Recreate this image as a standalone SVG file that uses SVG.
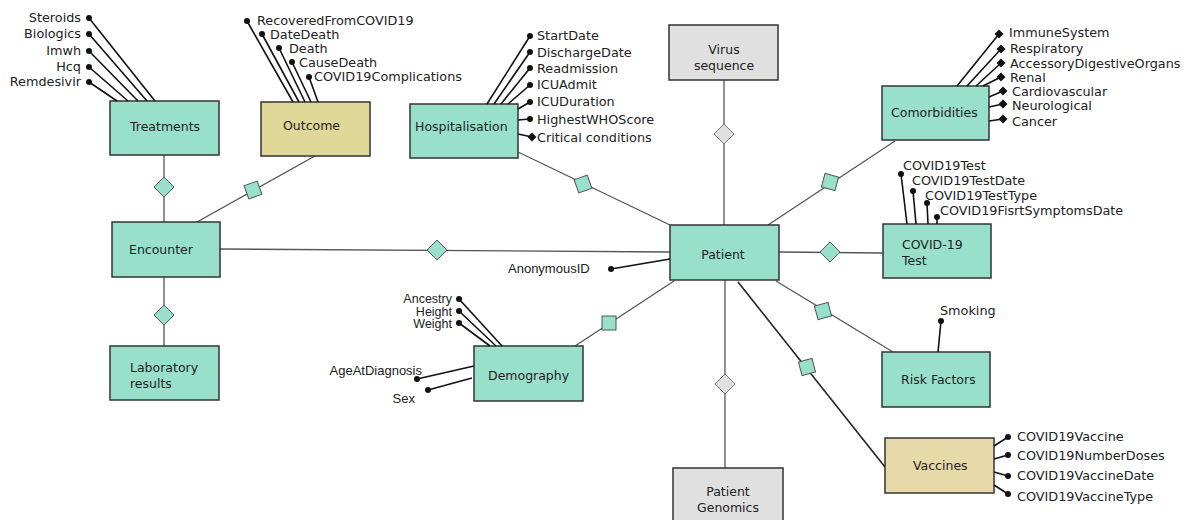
<svg xmlns="http://www.w3.org/2000/svg" width="1185" height="520" viewBox="0 0 1185 520">
<style>
.t{fill:#99e0cb;stroke:#333;stroke-width:1.5}
.y{fill:#e0d899;stroke:#333;stroke-width:1.5}
.v{fill:#e8d9a8;stroke:#333;stroke-width:1.5}
.g{fill:#e0e0e0;stroke:#333;stroke-width:1.5}
.lbl{font-family:"DejaVu Sans",Verdana,sans-serif;font-size:12.5px;fill:#222}
.att{font-family:"DejaVu Sans",Verdana,sans-serif;font-size:12.8px;fill:#222}
.ar{font-family:"Liberation Sans",Arial,sans-serif;font-size:13px;fill:#222}
.ars{font-family:"Liberation Sans",Arial,sans-serif;font-size:12.5px;fill:#222}
.c{stroke:#555;stroke-width:1.3;fill:none}
.cd{stroke:#222;stroke-width:1.6;fill:none}
.a{stroke:#111;stroke-width:1.6;fill:none}
.dm{fill:#99e0cb;stroke:#555;stroke-width:1}
.dg{fill:#e0e0e0;stroke:#777;stroke-width:1}
.sq{fill:#99e0cb;stroke:#555;stroke-width:1}
.dot{fill:#111}
</style>
<defs>
<polygon id="bd" points="0,-4.5 4.5,0 0,4.5 -4.5,0" fill="#111"/>
</defs>

<g id="connectors">
<line class="c" x1="164" y1="155" x2="164" y2="222"/>
<line class="c" x1="164" y1="277" x2="164" y2="346"/>
<line class="c" x1="197" y1="222" x2="315" y2="156"/>
<line class="c" x1="220" y1="249" x2="670" y2="252"/>
<line class="c" x1="518" y1="152" x2="670" y2="225"/>
<line class="c" x1="724" y1="80" x2="724" y2="225"/>
<line class="c" x1="895" y1="141" x2="768" y2="225"/>
<line class="c" x1="779" y1="252" x2="883" y2="253"/>
<line class="c" x1="776" y1="281" x2="893" y2="352"/>
<line class="cd" x1="738" y1="282" x2="885" y2="467"/>
<line class="c" x1="725" y1="280" x2="725" y2="468"/>
<line class="c" x1="575" y1="346" x2="674" y2="281"/>
<polygon class="dm" points="164,177 174,187 164,197 154,187"/>
<polygon class="dm" points="164,305 174,315 164,325 154,315"/>
<polygon class="dm" points="437,240 447,250 437,260 427,250"/>
<polygon class="dm" points="830,242 840,252 830,262 820,252"/>
<polygon class="dg" points="724,124 734,134 724,144 714,134"/>
<polygon class="dg" points="725,374 735,384 725,394 715,384"/>
<rect class="sq" x="-7" y="-7" width="14" height="14" transform="translate(253,190) rotate(-20)"/>
<rect class="sq" x="-7" y="-7" width="14" height="14" transform="translate(583,184) rotate(-20)"/>
<rect class="sq" x="-7" y="-7" width="14" height="14" transform="translate(830,182) rotate(15)"/>
<rect class="sq" x="-7" y="-7" width="14" height="14" transform="translate(823,311) rotate(-15)"/>
<rect class="sq" x="-7" y="-7" width="14" height="14" transform="translate(807,367) rotate(-15)"/>
<rect class="sq" x="-7" y="-7" width="14" height="14" transform="translate(609,323)"/>
</g>

<g id="treatments">
<rect class="t" x="110" y="101" width="109" height="54"/>
<text class="lbl" x="130" y="131">Treatments</text>
<line class="a" x1="89" y1="18" x2="155" y2="101"/>
<line class="a" x1="89" y1="34" x2="147" y2="101"/>
<line class="a" x1="89" y1="51" x2="138" y2="101"/>
<line class="a" x1="89" y1="67" x2="128" y2="101"/>
<line class="a" x1="89" y1="82" x2="117" y2="101"/>
<circle class="dot" cx="89" cy="18" r="3"/>
<circle class="dot" cx="89" cy="34" r="3"/>
<circle class="dot" cx="89" cy="51" r="3"/>
<circle class="dot" cx="89" cy="67" r="3"/>
<circle class="dot" cx="89" cy="82" r="3"/>
<text class="att" x="81" y="22" text-anchor="end">Steroids</text>
<text class="att" x="81" y="38" text-anchor="end">Biologics</text>
<text class="att" x="81" y="55" text-anchor="end">Imwh</text>
<text class="att" x="81" y="71" text-anchor="end">Hcq</text>
<text class="att" x="81" y="86" text-anchor="end">Remdesivir</text>
</g>

<g id="outcome">
<rect class="y" x="261" y="102" width="109" height="54"/>
<text class="lbl" x="283" y="130">Outcome</text>
<line class="a" x1="247" y1="21" x2="293" y2="102"/>
<line class="a" x1="262" y1="34" x2="299" y2="102"/>
<line class="a" x1="279" y1="48" x2="305" y2="102"/>
<line class="a" x1="292" y1="62" x2="311" y2="102"/>
<line class="a" x1="309" y1="77" x2="318" y2="102"/>
<circle class="dot" cx="247" cy="21" r="3"/>
<circle class="dot" cx="262" cy="34" r="3"/>
<circle class="dot" cx="279" cy="48" r="3"/>
<circle class="dot" cx="292" cy="62" r="3"/>
<circle class="dot" cx="309" cy="77" r="3"/>
<text class="att" x="257" y="25">RecoveredFromCOVID19</text>
<text class="att" x="270" y="39">DateDeath</text>
<text class="att" x="289" y="53">Death</text>
<text class="att" x="299" y="67">CauseDeath</text>
<text class="att" x="314" y="81">COVID19Complications</text>
</g>

<g id="hospitalisation">
<rect class="t" x="410" y="104" width="108" height="54"/>
<text class="lbl" x="415" y="131">Hospitalisation</text>
<line class="a" x1="530" y1="36" x2="487" y2="104"/>
<line class="a" x1="530" y1="52" x2="494" y2="104"/>
<line class="a" x1="530" y1="68" x2="501" y2="104"/>
<line class="a" x1="530" y1="85" x2="508" y2="104"/>
<line class="a" x1="530" y1="102" x2="518" y2="109"/>
<line class="a" x1="530" y1="119" x2="518" y2="120"/>
<line class="a" x1="532" y1="137" x2="518" y2="134"/>
<circle class="dot" cx="530" cy="36" r="3"/>
<circle class="dot" cx="530" cy="52" r="3"/>
<circle class="dot" cx="530" cy="68" r="3"/>
<circle class="dot" cx="530" cy="85" r="3"/>
<circle class="dot" cx="530" cy="102" r="3"/>
<circle class="dot" cx="530" cy="119" r="3"/>
<use href="#bd" x="532" y="137"/>
<text class="att" x="537" y="40">StartDate</text>
<text class="att" x="537" y="57">DischargeDate</text>
<text class="att" x="537" y="73">Readmission</text>
<text class="att" x="537" y="89">ICUAdmit</text>
<text class="att" x="537" y="106">ICUDuration</text>
<text class="att" x="537" y="124">HighestWHOScore</text>
<text class="att" x="537" y="142">Critical conditions</text>
</g>

<g id="virus-sequence">
<rect class="g" x="669" y="25" width="109" height="55"/>
<text class="lbl" x="724" y="54" text-anchor="middle">Virus</text>
<text class="lbl" x="724" y="70" text-anchor="middle">sequence</text>
</g>

<g id="comorbidities">
<rect class="t" x="882" y="86" width="107" height="54"/>
<text class="lbl" x="891" y="117">Comorbidities</text>
<line class="a" x1="999" y1="34" x2="957" y2="86"/>
<line class="a" x1="1001" y1="49" x2="967" y2="86"/>
<line class="a" x1="1001" y1="63" x2="976" y2="86"/>
<line class="a" x1="1001" y1="77" x2="983" y2="86"/>
<line class="a" x1="1003" y1="91" x2="989" y2="97"/>
<line class="a" x1="1003" y1="104" x2="989" y2="107"/>
<line class="a" x1="1003" y1="119" x2="989" y2="121"/>
<use href="#bd" x="999" y="34"/>
<use href="#bd" x="1001" y="49"/>
<use href="#bd" x="1001" y="63"/>
<use href="#bd" x="1001" y="77"/>
<use href="#bd" x="1003" y="91"/>
<use href="#bd" x="1003" y="104"/>
<use href="#bd" x="1003" y="119"/>
<text class="att" x="1009" y="37">ImmuneSystem</text>
<text class="att" x="1010" y="53">Respiratory</text>
<text class="att" x="1010" y="68">AccessoryDigestiveOrgans</text>
<text class="att" x="1010" y="82">Renal</text>
<text class="att" x="1012" y="96">Cardiovascular</text>
<text class="att" x="1012" y="110">Neurological</text>
<text class="att" x="1012" y="126">Cancer</text>
</g>

<g id="covid19-test">
<rect class="t" x="883" y="224" width="108" height="54"/>
<text class="lbl" x="902" y="249">COVID-19</text>
<text class="lbl" x="902" y="265">Test</text>
<line class="a" x1="901" y1="174" x2="907" y2="224"/>
<line class="a" x1="913" y1="191" x2="916" y2="224"/>
<line class="a" x1="927" y1="203" x2="928" y2="224"/>
<line class="a" x1="937" y1="217" x2="937" y2="224"/>
<circle class="dot" cx="901" cy="174" r="3"/>
<circle class="dot" cx="913" cy="191" r="3"/>
<circle class="dot" cx="927" cy="203" r="3"/>
<circle class="dot" cx="937" cy="217" r="3"/>
<text class="att" x="903" y="170">COVID19Test</text>
<text class="att" x="912" y="185">COVID19TestDate</text>
<text class="att" x="925" y="200">COVID19TestType</text>
<text class="att" x="940" y="215">COVID19FisrtSymptomsDate</text>
</g>

<g id="encounter">
<rect class="t" x="112" y="222" width="108" height="55"/>
<text class="lbl" x="129" y="254">Encounter</text>
</g>

<g id="laboratory-results">
<rect class="t" x="110" y="346" width="109" height="54"/>
<text class="lbl" x="130" y="372">Laboratory</text>
<text class="lbl" x="130" y="388">results</text>
</g>

<g id="patient">
<rect class="t" x="670" y="225" width="109" height="55"/>
<text class="lbl" x="723" y="259" text-anchor="middle">Patient</text>
<line class="a" x1="611" y1="269" x2="670" y2="259"/>
<circle class="dot" cx="611" cy="269" r="3"/>
<text class="ar" x="508" y="273">AnonymousID</text>
</g>

<g id="demography">
<rect class="t" x="474" y="346" width="109" height="55"/>
<text class="lbl" x="488" y="380">Demography</text>
<line class="a" x1="459" y1="299" x2="502" y2="346"/>
<line class="a" x1="459" y1="311" x2="496" y2="346"/>
<line class="a" x1="459" y1="323" x2="490" y2="346"/>
<line class="a" x1="417" y1="379" x2="474" y2="366"/>
<line class="a" x1="428" y1="390" x2="472" y2="378"/>
<circle class="dot" cx="459" cy="299" r="3"/>
<circle class="dot" cx="459" cy="311" r="3"/>
<circle class="dot" cx="459" cy="323" r="3"/>
<circle class="dot" cx="417" cy="379" r="3"/>
<circle class="dot" cx="428" cy="390" r="3"/>
<text class="ars" x="452" y="303" text-anchor="end">Ancestry</text>
<text class="ars" x="452" y="316" text-anchor="end">Height</text>
<text class="ars" x="452" y="328" text-anchor="end">Weight</text>
<text class="ar" x="422" y="375" text-anchor="end">AgeAtDiagnosis</text>
<text class="ar" x="415" y="403" text-anchor="end">Sex</text>
</g>

<g id="risk-factors">
<rect class="t" x="882" y="352" width="108" height="55"/>
<text class="lbl" x="901" y="384">Risk Factors</text>
<line class="a" x1="941" y1="321" x2="938" y2="352"/>
<circle class="dot" cx="941" cy="321" r="3"/>
<text class="att" x="940" y="315">Smoking</text>
</g>

<g id="vaccines">
<rect class="v" x="885" y="438" width="109" height="55"/>
<text class="lbl" x="913" y="470">Vaccines</text>
<line class="a" x1="1008" y1="437" x2="994" y2="446"/>
<line class="a" x1="1008" y1="455" x2="994" y2="459"/>
<line class="a" x1="1008" y1="476" x2="994" y2="472"/>
<line class="a" x1="1008" y1="494" x2="994" y2="485"/>
<circle class="dot" cx="1008" cy="437" r="3"/>
<circle class="dot" cx="1008" cy="455" r="3"/>
<circle class="dot" cx="1008" cy="476" r="3"/>
<circle class="dot" cx="1008" cy="494" r="3"/>
<text class="att" x="1017" y="441">COVID19Vaccine</text>
<text class="att" x="1017" y="460">COVID19NumberDoses</text>
<text class="att" x="1017" y="480">COVID19VaccineDate</text>
<text class="att" x="1017" y="501">COVID19VaccineType</text>
</g>

<g id="patient-genomics">
<rect class="g" x="673" y="468" width="110" height="60"/>
<text class="lbl" x="728" y="496" text-anchor="middle">Patient</text>
<text class="lbl" x="728" y="512" text-anchor="middle">Genomics</text>
</g>
</svg>
